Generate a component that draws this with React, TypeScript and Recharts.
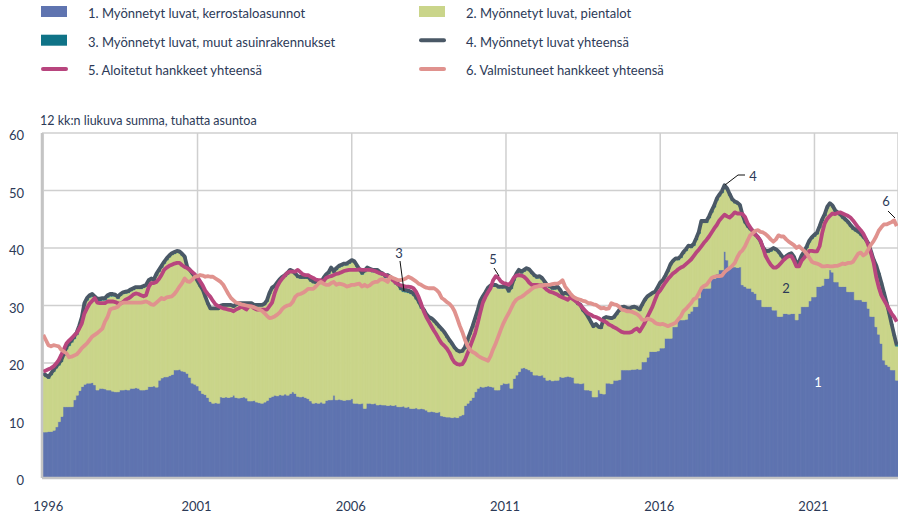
import { ComposedChart, Bar, Line, XAxis, YAxis, CartesianGrid } from 'recharts';

// 12 kk liukuva summa, tuhatta asuntoa, kuukausittain 1996-01 ... 2023-09

const kerrostalot = [
  8.0, 8.0, 8.1, 8.1, 8.3, 8.9, 9.8, 10.7, 12.4, 12.4, 12.4, 12.4,
  13.6, 14.4, 15.2, 15.9, 16.3, 16.5, 16.5, 16.6, 16.2, 15.3, 15.6, 15.6,
  15.5, 15.3, 15.3, 15.1, 15.0, 15.0, 15.3, 15.3, 15.4, 15.3, 15.6, 15.6,
  15.7, 15.6, 15.3, 15.3, 15.4, 15.9, 15.9, 16.0, 15.8, 17.0, 17.4, 17.6,
  17.6, 17.8, 18.0, 18.8, 18.8, 18.9, 18.6, 18.5, 18.2, 17.5, 16.5, 16.3,
  16.0, 15.2, 14.7, 14.5, 14.0, 13.3, 13.0, 13.1, 13.0, 14.1, 14.0, 14.1,
  14.0, 14.1, 14.4, 14.0, 13.9, 14.0, 14.1, 13.9, 13.4, 13.4, 13.5, 13.2,
  13.1, 13.0, 13.2, 13.5, 14.0, 14.2, 14.4, 14.3, 14.5, 14.4, 14.6, 14.4,
  14.7, 15.0, 14.7, 14.2, 14.1, 14.2, 14.0, 13.8, 13.4, 13.0, 13.1, 13.0,
  13.2, 13.0, 13.5, 13.6, 13.6, 14.4, 13.6, 13.7, 13.6, 13.5, 13.6, 13.6,
  13.8, 13.0, 13.0, 12.9, 13.0, 12.1, 13.0, 13.0, 12.9, 13.0, 12.7, 12.8,
  12.7, 12.7, 12.6, 12.7, 12.6, 12.7, 12.4, 12.4, 12.5, 12.3, 12.4, 12.1,
  12.1, 12.2, 12.0, 12.1, 12.0, 11.8, 11.5, 11.6, 11.5, 11.4, 11.5, 10.8,
  10.7, 10.6, 10.6, 10.5, 10.6, 10.5, 10.8, 11.0, 12.6, 13.0, 13.5, 14.0,
  15.0, 15.6, 15.9, 15.8, 15.9, 16.0, 15.9, 15.8, 15.3, 15.3, 16.2, 16.5,
  16.4, 16.5, 15.6, 17.3, 17.9, 18.5, 19.1, 19.2, 19.0, 18.8, 18.5, 17.9,
  17.9, 17.8, 17.9, 17.5, 17.0, 17.1, 16.9, 17.0, 17.0, 17.6, 17.5, 17.6,
  17.7, 17.6, 17.5, 16.5, 16.5, 16.4, 16.5, 15.3, 15.3, 15.2, 14.1, 14.1,
  15.3, 14.7, 14.6, 16.5, 16.5, 16.4, 17.0, 17.0, 17.1, 18.8, 18.8, 18.8,
  18.8, 18.9, 18.9, 19.0, 18.9, 20.2, 20.2, 21.0, 22.0, 22.0, 22.0, 22.1,
  22.6, 22.6, 24.3, 24.3, 24.3, 26.3, 26.3, 27.5, 27.5, 27.5, 27.6, 28.6,
  29.0, 29.8, 29.8, 31.3, 33.0, 33.0, 33.0, 33.0, 34.7, 34.7, 35.5, 36.2,
  36.2, 39.4, 37.9, 36.7, 36.7, 36.7, 36.6, 36.7, 33.6, 33.3, 33.0, 33.0,
  32.4, 32.1, 31.0, 31.0, 29.8, 29.8, 29.8, 29.8, 29.2, 29.2, 28.1, 28.1,
  28.6, 28.6, 28.5, 28.6, 28.6, 27.5, 28.6, 29.8, 29.8, 29.8, 30.8, 31.5,
  31.5, 33.3, 33.3, 33.5, 34.7, 34.7, 36.2, 35.8, 34.1, 34.1, 33.3, 33.3,
  33.3, 32.4, 32.4, 32.4, 31.0, 31.0, 31.0, 30.7, 30.7, 29.5, 28.1, 28.1,
  26.3, 25.0, 23.4, 20.5, 19.7, 19.4, 18.8, 18.8, 17.0,
];

const pientalot = [
  9.9, 9.6, 9.2, 9.8, 10.2, 10.2, 9.8, 9.5, 8.9, 10.0, 10.6, 11.2,
  10.6, 10.5, 10.9, 11.7, 13.7, 14.4, 14.9, 15.0, 15.0, 15.5, 15.2, 15.3,
  15.4, 16.1, 16.3, 16.5, 16.6, 16.2, 16.4, 16.7, 16.7, 16.9, 16.9, 17.1,
  17.2, 17.3, 17.6, 17.8, 17.9, 18.2, 18.5, 18.2, 19.4, 18.9, 19.2, 19.7,
  20.3, 20.6, 20.8, 20.2, 20.4, 20.2, 20.1, 19.8, 18.3, 18.5, 18.9, 18.5,
  18.1, 18.1, 17.9, 16.9, 16.2, 16.0, 16.3, 16.2, 16.3, 15.7, 15.9, 15.8,
  15.9, 15.8, 15.3, 16.0, 16.3, 16.2, 16.1, 16.3, 16.8, 16.8, 16.4, 16.7,
  16.8, 16.9, 16.9, 17.2, 18.0, 18.7, 18.8, 19.5, 19.9, 20.3, 20.4, 21.0,
  21.2, 20.7, 20.6, 20.6, 20.6, 20.5, 20.7, 20.9, 20.8, 20.9, 20.7, 20.8,
  20.6, 21.5, 21.6, 21.9, 22.7, 21.3, 22.6, 22.9, 23.2, 23.5, 23.4, 23.7,
  23.8, 24.4, 23.7, 23.1, 22.4, 23.7, 23.2, 23.0, 22.9, 22.8, 23.1, 22.6,
  22.5, 22.1, 22.3, 21.9, 21.6, 21.0, 21.0, 20.3, 19.9, 20.0, 19.8, 19.9,
  19.6, 18.9, 18.4, 17.4, 16.9, 16.4, 16.2, 15.9, 15.6, 15.2, 14.6, 14.8,
  14.4, 13.8, 13.1, 12.7, 11.9, 11.5, 11.0, 10.9, 9.9, 10.8, 11.5, 12.2,
  12.6, 13.4, 14.7, 15.5, 16.1, 16.8, 17.3, 17.5, 18.0, 17.7, 16.8, 16.5,
  16.7, 15.8, 17.3, 17.0, 17.3, 17.4, 16.5, 16.7, 17.2, 17.2, 17.0, 17.1,
  16.8, 17.0, 16.6, 16.4, 16.3, 16.0, 15.9, 15.8, 16.0, 14.9, 14.2, 14.3,
  14.1, 13.9, 13.6, 14.1, 13.6, 13.4, 12.5, 13.2, 12.5, 11.8, 12.1, 12.5,
  10.8, 11.3, 13.0, 11.3, 11.2, 11.2, 10.8, 11.4, 11.9, 10.7, 10.8, 10.6,
  10.5, 10.6, 10.7, 10.4, 10.2, 9.8, 10.6, 10.4, 9.7, 10.0, 10.2, 10.9,
  11.2, 11.6, 10.7, 11.6, 12.7, 11.3, 11.6, 10.4, 10.8, 11.5, 11.9, 11.5,
  11.0, 10.6, 11.6, 11.2, 11.4, 11.4, 11.4, 12.2, 11.5, 12.4, 12.8, 12.8,
  13.4, 11.2, 12.2, 12.4, 11.5, 11.1, 11.0, 10.5, 11.9, 11.0, 10.6, 10.1,
  10.3, 10.0, 10.6, 9.9, 10.0, 9.4, 9.4, 9.6, 10.5, 10.3, 11.0, 10.4,
  9.3, 9.7, 10.1, 10.2, 9.6, 9.5, 8.7, 8.6, 9.3, 10.2, 10.2, 10.1,
  10.5, 9.1, 10.2, 11.2, 10.9, 12.2, 11.3, 11.3, 12.2, 11.8, 12.3, 11.8,
  11.4, 11.9, 11.3, 10.8, 11.9, 11.6, 11.2, 11.0, 10.5, 11.0, 11.0, 9.6,
  10.4, 10.3, 10.3, 11.6, 10.7, 9.2, 7.8, 5.9, 5.9,
];

const muut = [
  0.3, 0.3, 0.3, 0.3, 0.3, 0.3, 0.3, 0.3, 0.3, 0.4, 0.4, 0.4,
  0.4, 0.4, 0.4, 0.4, 0.4, 0.4, 0.4, 0.4, 0.4, 0.4, 0.4, 0.4,
  0.4, 0.4, 0.4, 0.4, 0.3, 0.3, 0.3, 0.3, 0.3, 0.3, 0.3, 0.3,
  0.3, 0.3, 0.3, 0.3, 0.3, 0.3, 0.3, 0.3, 0.3, 0.3, 0.3, 0.3,
  0.3, 0.3, 0.3, 0.3, 0.3, 0.3, 0.3, 0.2, 0.2, 0.2, 0.2, 0.2,
  0.2, 0.2, 0.2, 0.2, 0.2, 0.2, 0.2, 0.2, 0.2, 0.2, 0.2, 0.2,
  0.2, 0.2, 0.2, 0.2, 0.2, 0.2, 0.2, 0.2, 0.2, 0.2, 0.2, 0.2,
  0.2, 0.2, 0.2, 0.2, 0.2, 0.2, 0.2, 0.2, 0.2, 0.3, 0.3, 0.3,
  0.3, 0.3, 0.3, 0.3, 0.3, 0.3, 0.3, 0.3, 0.3, 0.3, 0.3, 0.3,
  0.3, 0.3, 0.3, 0.3, 0.3, 0.3, 0.3, 0.3, 0.3, 0.3, 0.3, 0.3,
  0.3, 0.3, 0.3, 0.3, 0.3, 0.3, 0.4, 0.4, 0.4, 0.4, 0.4, 0.4,
  0.4, 0.4, 0.4, 0.4, 0.4, 0.4, 0.4, 0.4, 0.4, 0.4, 0.4, 0.4,
  0.4, 0.4, 0.4, 0.4, 0.4, 0.3, 0.3, 0.3, 0.3, 0.3, 0.3, 0.3,
  0.3, 0.3, 0.3, 0.2, 0.2, 0.2, 0.2, 0.2, 0.2, 0.2, 0.2, 0.2,
  0.2, 0.2, 0.2, 0.3, 0.3, 0.3, 0.3, 0.3, 0.3, 0.3, 0.3, 0.3,
  0.3, 0.3, 0.3, 0.3, 0.3, 0.3, 0.3, 0.3, 0.3, 0.3, 0.3, 0.3,
  0.3, 0.3, 0.3, 0.3, 0.3, 0.3, 0.3, 0.3, 0.3, 0.3, 0.3, 0.3,
  0.3, 0.3, 0.3, 0.3, 0.3, 0.3, 0.2, 0.2, 0.2, 0.2, 0.2, 0.2,
  0.2, 0.2, 0.2, 0.2, 0.2, 0.2, 0.2, 0.2, 0.2, 0.2, 0.2, 0.2,
  0.2, 0.2, 0.2, 0.2, 0.2, 0.2, 0.2, 0.2, 0.2, 0.2, 0.2, 0.2,
  0.2, 0.2, 0.2, 0.2, 0.2, 0.2, 0.3, 0.3, 0.3, 0.3, 0.3, 0.3,
  0.3, 0.3, 0.3, 0.3, 0.3, 0.3, 0.3, 0.3, 0.3, 0.3, 0.3, 0.3,
  0.3, 0.3, 0.3, 0.3, 0.3, 0.3, 0.3, 0.3, 0.3, 0.3, 0.3, 0.3,
  0.3, 0.3, 0.3, 0.3, 0.3, 0.3, 0.3, 0.3, 0.3, 0.3, 0.3, 0.3,
  0.3, 0.3, 0.3, 0.3, 0.3, 0.3, 0.3, 0.3, 0.3, 0.3, 0.3, 0.3,
  0.3, 0.3, 0.3, 0.3, 0.3, 0.3, 0.3, 0.3, 0.3, 0.3, 0.3, 0.3,
  0.3, 0.3, 0.3, 0.3, 0.3, 0.3, 0.3, 0.3, 0.3, 0.3, 0.3, 0.3,
  0.3, 0.3, 0.3, 0.2, 0.2, 0.2, 0.2, 0.2, 0.2,
];

const luvatYht = [
  18.2, 17.9, 17.6, 18.2, 18.8, 19.4, 19.9, 20.5, 21.6, 22.8, 23.4, 24.0,
  24.6, 25.3, 26.5, 28.0, 30.4, 31.3, 31.8, 32.0, 31.6, 31.2, 31.2, 31.3,
  31.3, 31.8, 32.0, 32.0, 31.9, 31.5, 32.0, 32.3, 32.4, 32.5, 32.8, 33.0,
  33.2, 33.2, 33.2, 33.4, 33.6, 34.4, 34.7, 34.5, 35.5, 36.2, 36.9, 37.6,
  38.2, 38.7, 39.1, 39.3, 39.5, 39.4, 39.0, 38.5, 36.7, 36.2, 35.6, 35.0,
  34.3, 33.5, 32.8, 31.6, 30.4, 29.5, 29.5, 29.5, 29.5, 30.0, 30.1, 30.1,
  30.1, 30.1, 29.9, 30.2, 30.4, 30.4, 30.4, 30.4, 30.4, 30.4, 30.1, 30.1,
  30.1, 30.1, 30.3, 30.9, 32.2, 33.1, 33.4, 34.0, 34.6, 35.0, 35.3, 35.7,
  36.2, 36.0, 35.6, 35.1, 35.0, 35.0, 35.0, 35.0, 34.5, 34.2, 34.1, 34.1,
  34.1, 34.8, 35.4, 35.8, 36.6, 36.0, 36.5, 36.9, 37.1, 37.3, 37.3, 37.6,
  37.9, 37.7, 37.0, 36.3, 35.7, 36.1, 36.6, 36.4, 36.2, 36.2, 36.2, 35.8,
  35.6, 35.2, 35.3, 35.0, 34.6, 34.1, 33.8, 33.1, 32.8, 32.7, 32.6, 32.4,
  32.1, 31.5, 30.8, 29.9, 29.3, 28.5, 28.0, 27.8, 27.4, 26.9, 26.4, 25.9,
  25.4, 24.7, 24.0, 23.4, 22.7, 22.2, 22.0, 22.1, 22.7, 24.0, 25.2, 26.4,
  27.8, 29.2, 30.8, 31.6, 32.3, 33.1, 33.5, 33.6, 33.6, 33.3, 33.3, 33.3,
  33.4, 32.6, 33.2, 34.6, 35.5, 36.2, 35.9, 36.2, 36.5, 36.3, 35.8, 35.3,
  35.0, 35.1, 34.8, 34.2, 33.6, 33.4, 33.1, 33.1, 33.3, 32.8, 32.0, 32.2,
  32.1, 31.8, 31.4, 30.9, 30.4, 30.1, 29.2, 28.7, 28.0, 27.2, 26.4, 26.8,
  26.3, 26.2, 27.8, 28.0, 27.9, 27.8, 28.0, 28.6, 29.2, 29.7, 29.8, 29.6,
  29.5, 29.7, 29.8, 29.6, 29.3, 30.2, 31.0, 31.6, 31.9, 32.2, 32.4, 33.2,
  34.0, 34.4, 35.2, 36.1, 37.2, 37.8, 38.2, 38.2, 38.6, 39.3, 39.8, 40.4,
  40.3, 40.7, 41.7, 42.8, 44.7, 44.7, 44.7, 45.5, 46.5, 47.4, 48.6, 49.3,
  49.9, 50.9, 50.4, 49.4, 48.5, 48.1, 47.9, 47.5, 45.8, 44.6, 43.9, 43.4,
  43.0, 42.4, 41.9, 41.2, 40.1, 39.5, 39.5, 39.7, 40.0, 39.8, 39.4, 38.8,
  38.2, 38.6, 38.9, 39.1, 38.5, 37.3, 37.6, 38.7, 39.4, 40.3, 41.3, 41.9,
  42.3, 42.7, 43.8, 45.0, 45.9, 47.2, 47.8, 47.4, 46.6, 46.2, 45.9, 45.4,
  45.0, 44.6, 44.0, 43.5, 43.2, 42.9, 42.5, 42.0, 41.5, 40.8, 39.4, 38.0,
  37.0, 35.6, 34.0, 32.3, 30.6, 28.8, 26.8, 24.9, 23.1,
];

const aloitetut = [
  18.5, 18.7, 18.9, 19.1, 19.4, 19.9, 20.5, 21.4, 22.4, 23.4, 23.9, 24.3,
  24.8, 25.2, 26.0, 26.9, 28.6, 29.5, 30.3, 30.8, 31.3, 30.5, 30.4, 30.4,
  30.4, 30.7, 30.7, 30.7, 30.6, 30.4, 30.3, 30.6, 31.0, 31.2, 31.5, 31.9,
  32.1, 32.0, 31.8, 31.6, 31.8, 33.2, 33.9, 33.9, 34.1, 34.6, 35.3, 36.2,
  36.6, 36.9, 37.1, 37.3, 37.4, 37.4, 37.0, 36.7, 36.5, 36.2, 35.8, 35.4,
  34.9, 34.2, 33.5, 32.6, 32.0, 31.5, 30.8, 30.2, 29.9, 29.7, 29.5, 29.4,
  29.3, 29.2, 29.0, 29.3, 29.5, 29.8, 29.6, 29.3, 29.9, 29.9, 29.5, 29.3,
  29.3, 29.3, 29.3, 29.3, 29.9, 30.5, 32.1, 33.3, 34.1, 34.7, 35.2, 35.7,
  35.9, 35.9, 35.9, 36.2, 35.8, 35.4, 35.3, 35.3, 35.0, 34.8, 34.5, 34.4,
  34.4, 34.2, 34.8, 35.0, 35.1, 35.3, 35.5, 35.6, 35.8, 36.0, 36.1, 36.2,
  36.2, 36.2, 36.2, 36.3, 36.2, 36.2, 36.2, 36.2, 36.1, 36.0, 35.8, 35.6,
  35.5, 35.3, 35.1, 34.8, 34.4, 34.0, 33.7, 33.5, 33.4, 33.3, 33.3, 33.2,
  33.0, 32.4, 31.5, 30.3, 29.0, 28.0, 27.2, 26.4, 25.6, 24.9, 24.1, 23.4,
  23.0, 22.5, 21.8, 20.8, 20.1, 19.8, 19.7, 19.8, 20.5, 21.6, 22.8, 24.0,
  25.2, 26.9, 28.8, 30.5, 31.5, 32.3, 33.0, 34.4, 35.1, 34.8, 34.2, 33.9,
  33.8, 33.6, 34.0, 34.8, 35.2, 35.3, 35.2, 35.0, 34.6, 34.0, 33.6, 33.6,
  33.6, 33.5, 33.5, 33.1, 32.7, 32.4, 32.3, 32.1, 31.9, 31.6, 31.4, 31.2,
  31.0, 31.4, 31.1, 30.8, 30.4, 30.0, 29.5, 29.0, 28.6, 28.4, 28.1, 28.0,
  27.8, 27.5, 27.3, 27.1, 26.7, 26.5, 26.2, 26.0, 25.7, 25.4, 25.3, 25.3,
  25.3, 25.4, 25.8, 26.0, 25.5, 26.2, 27.0, 28.0, 28.9, 29.8, 31.0, 32.1,
  32.6, 33.3, 34.0, 34.6, 35.1, 35.6, 35.9, 36.3, 36.6, 36.8, 37.2, 37.6,
  38.0, 38.6, 39.2, 39.7, 40.3, 40.9, 41.4, 42.0, 42.7, 43.4, 44.0, 44.8,
  45.3, 45.8, 45.5, 45.3, 45.7, 46.2, 46.0, 46.0, 45.9, 45.4, 44.3, 43.6,
  42.9, 42.3, 41.9, 41.3, 40.0, 38.6, 37.8, 37.1, 36.6, 36.6, 36.9, 37.4,
  37.9, 38.3, 38.6, 38.6, 37.8, 36.8, 36.8, 37.8, 38.3, 38.9, 39.5, 39.5,
  39.4, 39.4, 40.3, 42.6, 44.3, 45.1, 45.6, 46.0, 45.9, 46.1, 46.2, 46.0,
  45.8, 45.6, 45.3, 44.8, 44.2, 43.6, 43.1, 42.5, 41.6, 40.4, 39.1, 37.5,
  35.0, 33.2, 31.8, 31.0, 30.2, 29.4, 28.6, 28.0, 27.2,
];

const valmistuneet = [
  24.9, 24.0, 23.1, 22.9, 23.1, 23.0, 22.9, 22.3, 22.0, 21.7, 21.0, 21.1,
  21.3, 21.5, 22.0, 22.6, 23.0, 23.4, 24.0, 24.6, 24.9, 25.2, 25.6, 26.0,
  27.2, 28.0, 29.3, 29.5, 29.6, 29.8, 30.3, 30.5, 30.5, 30.5, 30.5, 30.5,
  30.5, 30.5, 30.5, 30.6, 30.7, 30.5, 30.2, 30.1, 30.5, 30.9, 31.3, 31.1,
  31.4, 31.5, 31.6, 32.0, 32.6, 33.3, 33.9, 34.7, 34.2, 34.1, 34.5, 35.0,
  35.1, 35.3, 35.2, 35.0, 35.1, 35.0, 35.0, 34.7, 34.4, 34.1, 33.6, 32.8,
  32.0, 31.3, 30.9, 30.5, 30.4, 30.2, 30.1, 30.0, 29.9, 29.8, 29.7, 29.5,
  29.3, 29.1, 28.7, 28.2, 27.8, 27.9, 28.1, 28.4, 28.8, 29.4, 29.8, 30.0,
  30.1, 30.6, 31.5, 31.9, 32.0, 32.2, 32.5, 32.9, 32.9, 32.9, 33.3, 33.8,
  34.1, 33.8, 33.6, 33.6, 33.9, 34.1, 33.6, 33.8, 33.7, 33.6, 33.3, 33.4,
  33.6, 33.6, 33.7, 33.8, 33.3, 33.6, 33.3, 33.5, 33.9, 34.1, 34.1, 34.5,
  34.6, 34.4, 34.1, 35.0, 34.8, 34.6, 34.4, 34.4, 34.5, 34.7, 35.0, 34.8,
  34.5, 34.2, 33.8, 33.6, 33.3, 33.1, 33.0, 33.0, 33.0, 32.7, 32.2, 31.3,
  31.0, 30.6, 30.3, 29.8, 29.0, 27.8, 26.5, 25.4, 24.1, 23.0, 22.3, 21.9,
  21.7, 21.3, 21.0, 20.8, 20.6, 20.4, 21.2, 22.4, 23.4, 24.6, 25.8, 26.9,
  27.8, 28.6, 29.5, 30.4, 31.0, 31.3, 31.5, 31.8, 32.2, 32.5, 32.9, 33.2,
  33.3, 33.4, 33.4, 33.6, 33.6, 33.6, 33.7, 33.8, 33.8, 34.0, 34.4, 33.3,
  32.7, 32.1, 31.6, 31.3, 31.1, 31.0, 30.8, 30.7, 30.4, 30.4, 30.2, 30.1,
  29.8, 29.5, 29.6, 29.4, 29.5, 30.4, 30.2, 30.1, 29.8, 29.3, 29.2, 29.0,
  29.0, 28.9, 28.7, 28.5, 28.1, 27.5, 27.5, 27.7, 27.6, 27.4, 27.0, 26.8,
  26.7, 26.8, 26.6, 26.4, 26.6, 26.8, 27.0, 27.6, 28.1, 29.0, 29.4, 29.9,
  30.4, 31.1, 31.3, 32.1, 33.0, 33.4, 33.6, 34.2, 34.8, 35.0, 35.1, 35.1,
  35.2, 35.8, 36.2, 36.5, 36.9, 37.4, 38.4, 39.2, 39.6, 40.3, 41.3, 42.2,
  42.6, 43.0, 43.1, 42.8, 42.7, 42.4, 42.0, 41.5, 41.1, 41.5, 42.2, 42.0,
  42.0, 41.5, 41.1, 40.8, 40.5, 40.0, 40.3, 39.9, 39.5, 39.0, 38.3, 37.6,
  37.4, 37.3, 37.1, 36.8, 36.8, 36.9, 36.8, 36.8, 36.9, 36.9, 37.1, 37.3,
  37.2, 37.4, 37.4, 37.6, 38.3, 39.0, 39.2, 38.7, 39.0, 39.8, 40.6, 41.2,
  42.0, 43.0, 43.6, 44.1, 44.1, 44.3, 44.5, 44.8, 43.8,
];

const yearTicks = ['1996-01', '2001-01', '2006-01', '2011-01', '2016-01', '2021-01'];
const yTicks = [0, 10, 20, 30, 40, 50, 60];

const legendItems = [
  { label: '1. Myönnetyt luvat, kerrostaloasunnot', color: '#5f74b0', kind: 'box' },
  { label: '2. Myönnetyt luvat, pientalot', color: '#cad58a', kind: 'box' },
  { label: '3. Myönnetyt luvat, muut asuinrakennukset', color: '#0f7387', kind: 'box' },
  { label: '4. Myönnetyt luvat yhteensä', color: '#4a5866', kind: 'line' },
  { label: '5. Aloitetut hankkeet yhteensä', color: '#b8457e', kind: 'line' },
  { label: '6. Valmistuneet hankkeet yhteensä', color: '#e0928e', kind: 'line' },
];

const TEXT = '#2c3a57';
const FONT = 'Lato, "Open Sans", sans-serif';

const months: string[] = [];
for (let i = 0; i < kerrostalot.length; i++) {
  const m = (i % 12) + 1;
  months.push(`${1996 + Math.floor(i / 12)}-${m < 10 ? '0' + m : m}`);
}

const data = months.map((d, i) => ({
  d,
  s1: kerrostalot[i],
  s2: pientalot[i],
  s3: muut[i],
  s4: luvatYht[i],
  s5: aloitetut[i],
  s6: valmistuneet[i],
}));

const XTick = ({ x, y, payload }: any) => (
  <text
    x={payload.value === '1996-01' ? x + 5 : x - 1}
    y={y + 31}
    textAnchor="middle"
    fontSize={13}
    fill={TEXT}
    fontFamily={FONT}
  >
    {String(payload.value).slice(0, 4)}
  </text>
);

const YTick = ({ x, y, payload }: any) => (
  <text x={x - 16} y={y + 7} textAnchor="end" fontSize={13} fill={TEXT} fontFamily={FONT}>
    {payload.value}
  </text>
);

const Overlay = () => (
  <svg
    width={898}
    height={516}
    style={{ position: 'absolute', left: 0, top: 0, pointerEvents: 'none' }}
    fontFamily={FONT}
  >
    {legendItems.map((it, i) => {
      const col = i % 2;
      const row = Math.floor(i / 2);
      const sx = col === 0 ? 41 : 419;
      const tx = col === 0 ? 88 : 466;
      const cy = 11.5 + row * 28.7;
      return (
        <g key={it.label}>
          {it.kind === 'box' ? (
            <rect x={sx} y={cy - 5.5} width={26} height={11} fill={it.color} />
          ) : (
            <line x1={sx + 2} x2={sx + 25} y1={cy} y2={cy} stroke={it.color} strokeWidth={4} strokeLinecap="round" />
          )}
          <text x={tx} y={cy + 6.5} fontSize={13} fill={TEXT}>
            {it.label}
          </text>
        </g>
      );
    })}
    <text x={40} y={124.5} fontSize={12.5} fill={TEXT}>
      12 kk:n liukuva summa, tuhatta asuntoa
    </text>

    <text x={818} y={387} fontSize={13} fill="#ffffff" textAnchor="middle">1</text>
    <text x={786} y={293} fontSize={13} fill={TEXT} textAnchor="middle">2</text>
    <text x={399} y={258} fontSize={13} fill={TEXT} textAnchor="middle">3</text>
    <polyline points="400,261 404,291" fill="none" stroke="#111" strokeWidth={1} />
    <text x={753} y={181} fontSize={13} fill={TEXT} textAnchor="middle">4</text>
    <polyline points="725,185 738,175 745,175" fill="none" stroke="#111" strokeWidth={1} />
    <text x={493} y={264} fontSize={13} fill={TEXT} textAnchor="middle">5</text>
    <polyline points="494,268 499,276" fill="none" stroke="#111" strokeWidth={1} />
    <text x={886} y={206} fontSize={13} fill={TEXT} textAnchor="middle">6</text>
    <polyline points="888,211 895,218" fill="none" stroke="#111" strokeWidth={1} />
  </svg>
);

export default function App() {
  return (
    <div style={{ position: 'absolute', left: 0, top: 0, width: 898, height: 516, background: '#fff' }}>
      <ComposedChart
        width={898}
        height={516}
        data={data}
        margin={{ top: 133, right: 0, bottom: 8, left: 0 }}
        barCategoryGap={0}
        barGap={0}
      >
        <CartesianGrid stroke="#cfcfcf" strokeWidth={1.5} />
        <XAxis
          dataKey="d"
          ticks={yearTicks}
          interval={0}
          height={30}
          tickLine={false}
          tickSize={0}
          axisLine={{ stroke: '#c4c4c4', strokeWidth: 2.5 }}
          tick={<XTick />}
        />
        <YAxis
          domain={[0, 60]}
          ticks={yTicks}
          width={42}
          tickLine={false}
          tickSize={0}
          axisLine={{ stroke: '#c4c4c4', strokeWidth: 2.5 }}
          tick={<YTick />}
        />
        <Bar dataKey="s1" stackId="a" fill="#5f74b0" stroke="#5f74b0" strokeWidth={0.6} isAnimationActive={false} />
        <Bar dataKey="s2" stackId="a" fill="#cad58a" stroke="#cad58a" strokeWidth={0.6} isAnimationActive={false} />
        <Bar dataKey="s3" stackId="a" fill="#0f7387" stroke="#0f7387" strokeWidth={0.3} isAnimationActive={false} />
        <Line dataKey="s4" stroke="#4a5866" strokeWidth={3.8} dot={false} strokeLinejoin="round" isAnimationActive={false} />
        <Line dataKey="s5" stroke="#b8457e" strokeWidth={3.8} dot={false} strokeLinejoin="round" isAnimationActive={false} />
        <Line dataKey="s6" stroke="#e0928e" strokeWidth={3.8} dot={false} strokeLinejoin="round" isAnimationActive={false} />
      </ComposedChart>
      <Overlay />
    </div>
  );
}
